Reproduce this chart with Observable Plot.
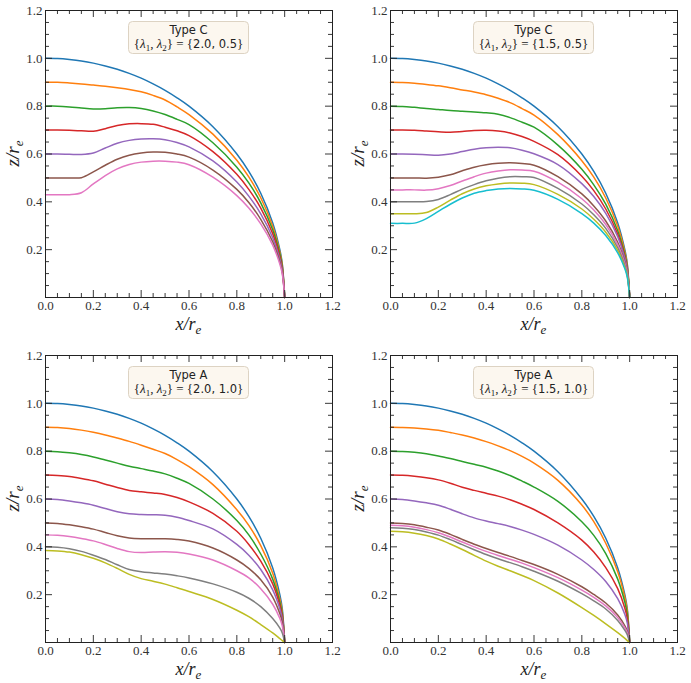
<!DOCTYPE html>
<html><head><meta charset="utf-8">
<script src="https://cdn.jsdelivr.net/npm/d3@7"></script>
<script src="https://cdn.jsdelivr.net/npm/@observablehq/plot@0.6"></script>
<style>
body{margin:0;background:#fff;}
#wrap{position:relative;width:691px;height:683px;overflow:hidden;}
.panel{position:absolute;}
</style></head><body><div id="wrap"></div>
<script>
// shared x positions (x / r_e)
const xs = [0, 0.05, 0.1, 0.15, 0.2, 0.25, 0.3, 0.35, 0.4, 0.45, 0.5, 0.55, 0.6, 0.7, 0.8, 0.85, 0.9, 0.95, 0.98, 0.99, 1.0];
const colors = ["#1f77b4","#ff7f0e","#2ca02c","#d62728","#9467bd","#8c564b","#e377c2","#7f7f7f","#bcbd22","#17becf"];
const xTicks = [0.0, 0.2, 0.4, 0.6, 0.8, 1.0, 1.2];
const yTicks = [0.2, 0.4, 0.6, 0.8, 1.0, 1.2];
const panelTypes = ["Type C", "Type C", "Type A", "Type A"];
const lambda1 = ["2.0", "1.5", "2.0", "1.5"];
const lambda2 = ["0.5", "0.5", "1.0", "1.0"];

const sphere = [1, 0.999, 0.995, 0.989, 0.98, 0.968, 0.954, 0.937, 0.917, 0.893, 0.866, 0.835, 0.8, 0.714, 0.6, 0.527, 0.436, 0.312, 0.199, 0.141, 0];

// Type C {2.0, 0.5}
const typeC_20_05 = [
  sphere,
  [0.9, 0.9, 0.897, 0.893, 0.888, 0.883, 0.877, 0.87, 0.86, 0.845, 0.826, 0.797, 0.765, 0.683, 0.574, 0.504, 0.417, 0.298, 0.19, 0.135, 0],
  [0.8, 0.8, 0.797, 0.792, 0.788, 0.789, 0.793, 0.794, 0.79, 0.78, 0.765, 0.745, 0.723, 0.647, 0.545, 0.479, 0.396, 0.283, 0.181, 0.128, 0],
  [0.7, 0.7, 0.699, 0.697, 0.695, 0.706, 0.719, 0.726, 0.727, 0.724, 0.712, 0.697, 0.677, 0.61, 0.515, 0.452, 0.374, 0.267, 0.17, 0.12, 0],
  [0.6, 0.6, 0.599, 0.598, 0.604, 0.625, 0.645, 0.657, 0.663, 0.664, 0.66, 0.648, 0.63, 0.571, 0.483, 0.424, 0.35, 0.25, 0.159, 0.113, 0],
  [0.5, 0.5, 0.5, 0.501, 0.525, 0.553, 0.578, 0.595, 0.604, 0.608, 0.607, 0.6, 0.587, 0.533, 0.452, 0.397, 0.327, 0.233, 0.148, 0.105, 0],
  [0.43, 0.43, 0.43, 0.438, 0.475, 0.51, 0.538, 0.556, 0.566, 0.57, 0.57, 0.566, 0.555, 0.503, 0.426, 0.374, 0.308, 0.219, 0.139, 0.099, 0]
];

// Type C {1.5, 0.5}
const typeC_15_05 = [
  sphere,
  [0.9, 0.899, 0.896, 0.891, 0.885, 0.877, 0.868, 0.859, 0.848, 0.833, 0.815, 0.79, 0.763, 0.681, 0.572, 0.503, 0.416, 0.298, 0.19, 0.135, 0],
  [0.8, 0.799, 0.795, 0.79, 0.786, 0.782, 0.779, 0.776, 0.772, 0.766, 0.752, 0.733, 0.712, 0.637, 0.536, 0.471, 0.39, 0.279, 0.178, 0.126, 0],
  [0.7, 0.7, 0.699, 0.696, 0.693, 0.691, 0.694, 0.698, 0.699, 0.696, 0.688, 0.673, 0.653, 0.597, 0.507, 0.447, 0.37, 0.265, 0.17, 0.12, 0],
  [0.6, 0.6, 0.599, 0.597, 0.595, 0.6, 0.61, 0.62, 0.626, 0.628, 0.626, 0.616, 0.601, 0.556, 0.476, 0.422, 0.352, 0.254, 0.163, 0.115, 0],
  [0.5, 0.5, 0.5, 0.499, 0.503, 0.513, 0.53, 0.545, 0.555, 0.561, 0.563, 0.56, 0.553, 0.505, 0.433, 0.383, 0.32, 0.231, 0.148, 0.105, 0],
  [0.45, 0.45, 0.45, 0.449, 0.455, 0.468, 0.487, 0.505, 0.52, 0.529, 0.534, 0.533, 0.528, 0.482, 0.413, 0.366, 0.305, 0.22, 0.141, 0.1, 0],
  [0.4, 0.4, 0.4, 0.401, 0.41, 0.43, 0.453, 0.472, 0.488, 0.499, 0.505, 0.505, 0.502, 0.456, 0.391, 0.346, 0.289, 0.208, 0.133, 0.095, 0],
  [0.35, 0.35, 0.35, 0.355, 0.378, 0.407, 0.434, 0.454, 0.467, 0.475, 0.479, 0.478, 0.472, 0.431, 0.37, 0.327, 0.273, 0.197, 0.126, 0.09, 0],
  [0.31, 0.31, 0.311, 0.33, 0.36, 0.39, 0.416, 0.436, 0.447, 0.454, 0.456, 0.454, 0.448, 0.41, 0.351, 0.311, 0.259, 0.187, 0.12, 0.085, 0]
];

// Type A {2.0, 1.0}
const typeA_20_10 = [
  sphere,
  [0.9, 0.899, 0.895, 0.888, 0.879, 0.868, 0.855, 0.841, 0.825, 0.808, 0.79, 0.765, 0.735, 0.66, 0.555, 0.49, 0.405, 0.29, 0.182, 0.128, 0],
  [0.8, 0.798, 0.793, 0.786, 0.776, 0.763, 0.75, 0.737, 0.727, 0.717, 0.705, 0.687, 0.665, 0.6, 0.51, 0.45, 0.37, 0.265, 0.168, 0.118, 0],
  [0.7, 0.698, 0.694, 0.686, 0.676, 0.662, 0.648, 0.636, 0.63, 0.625, 0.619, 0.606, 0.588, 0.54, 0.465, 0.41, 0.34, 0.245, 0.155, 0.109, 0],
  [0.6, 0.598, 0.592, 0.584, 0.574, 0.56, 0.547, 0.538, 0.535, 0.534, 0.532, 0.524, 0.51, 0.475, 0.41, 0.365, 0.305, 0.22, 0.14, 0.099, 0],
  [0.5, 0.498, 0.492, 0.484, 0.474, 0.46, 0.446, 0.437, 0.434, 0.434, 0.434, 0.431, 0.424, 0.395, 0.345, 0.31, 0.262, 0.19, 0.12, 0.085, 0],
  [0.45, 0.448, 0.443, 0.435, 0.425, 0.41, 0.393, 0.38, 0.376, 0.378, 0.379, 0.377, 0.37, 0.345, 0.3, 0.27, 0.225, 0.16, 0.1, 0.07, 0],
  [0.4, 0.398, 0.392, 0.381, 0.365, 0.347, 0.325, 0.305, 0.296, 0.291, 0.286, 0.279, 0.27, 0.245, 0.21, 0.185, 0.15, 0.1, 0.06, 0.04, 0],
  [0.385, 0.383, 0.378, 0.367, 0.352, 0.333, 0.31, 0.285, 0.267, 0.256, 0.244, 0.229, 0.213, 0.18, 0.135, 0.108, 0.075, 0.04, 0.016, 0.008, 0]
];

// Type A {1.5, 1.0}
const typeA_15_10 = [
  sphere,
  [0.9, 0.899, 0.897, 0.893, 0.887, 0.878, 0.868, 0.855, 0.84, 0.822, 0.802, 0.778, 0.75, 0.678, 0.575, 0.505, 0.415, 0.296, 0.188, 0.133, 0],
  [0.8, 0.799, 0.795, 0.789, 0.78, 0.769, 0.757, 0.745, 0.733, 0.717, 0.698, 0.675, 0.65, 0.59, 0.505, 0.448, 0.372, 0.265, 0.168, 0.118, 0],
  [0.7, 0.699, 0.695, 0.689, 0.68, 0.666, 0.649, 0.636, 0.624, 0.612, 0.597, 0.578, 0.556, 0.5, 0.428, 0.378, 0.313, 0.225, 0.143, 0.1, 0],
  [0.6, 0.598, 0.592, 0.584, 0.574, 0.557, 0.538, 0.521, 0.508, 0.497, 0.485, 0.47, 0.452, 0.407, 0.345, 0.305, 0.255, 0.183, 0.117, 0.082, 0],
  [0.5, 0.498, 0.492, 0.482, 0.47, 0.452, 0.431, 0.411, 0.393, 0.376, 0.36, 0.343, 0.326, 0.285, 0.233, 0.201, 0.165, 0.115, 0.07, 0.048, 0],
  [0.49, 0.488, 0.482, 0.472, 0.459, 0.441, 0.42, 0.4, 0.381, 0.364, 0.348, 0.332, 0.313, 0.271, 0.219, 0.189, 0.153, 0.104, 0.061, 0.041, 0],
  [0.48, 0.478, 0.472, 0.462, 0.449, 0.43, 0.409, 0.388, 0.368, 0.35, 0.334, 0.317, 0.298, 0.256, 0.204, 0.174, 0.14, 0.092, 0.051, 0.033, 0],
  [0.465, 0.463, 0.457, 0.447, 0.433, 0.412, 0.389, 0.364, 0.34, 0.319, 0.3, 0.28, 0.259, 0.207, 0.146, 0.113, 0.078, 0.041, 0.017, 0.008, 0]
];

const panels = [typeC_20_05, typeC_15_05, typeA_20_10, typeA_15_10];
const positions = [[0, 0], [345, 0], [0, 345], [345, 345]];

const W = 345, H = 340, ML = 45, MR = 13, MT = 10, MB = 43;
const minorTicks = d3.range(0, 25, 1).map(i => i * 0.05).filter(v => Math.abs(v / 0.2 - Math.round(v / 0.2)) > 1e-6);
const serif = "'Liberation Serif', 'DejaVu Serif', serif";
const sans = "'DejaVu Sans', sans-serif";
const tickColor = "#222";

function tickMarks(vals, len) {
  return [
    Plot.ruleX(vals, {x: d => d, y1: 0, y2: 0, insetBottom: len, stroke: tickColor, strokeWidth: 0.9}),
    Plot.ruleX(vals, {x: d => d, y1: 1.2, y2: 1.2, insetTop: len, stroke: tickColor, strokeWidth: 0.9}),
    Plot.ruleY(vals, {y: d => d, x1: 0, x2: 0, insetLeft: len, stroke: tickColor, strokeWidth: 0.9}),
    Plot.ruleY(vals, {y: d => d, x1: 1.2, x2: 1.2, insetRight: len, stroke: tickColor, strokeWidth: 0.9})
  ];
}

const wrap = document.getElementById("wrap");
panels.forEach((series, p) => {
  const lines = series.map((ys, k) =>
    Plot.line(xs.map((x, i) => ({x, y: ys[i]})), {x: "x", y: "y", stroke: colors[k], strokeWidth: 1.5, curve: "catmull-rom"})
  );
  const svg = Plot.plot({
    width: W, height: H,
    marginLeft: ML, marginRight: MR, marginTop: MT, marginBottom: MB,
    x: {domain: [0, 1.2]},
    y: {domain: [0, 1.2]},
    style: {fontFamily: serif, fontSize: "13px", color: "#333", background: "transparent", overflow: "visible"},
    marks: [
      ...lines,
      Plot.axisX(xTicks, {tickSize: 0, tickPadding: 3, tickFormat: d3.format(".1f"), label: null, fontSize: 13, fill: "#333", fontFamily: serif}),
      Plot.axisY(yTicks, {tickSize: 0, tickPadding: 3, tickFormat: d3.format(".1f"), label: null, fontSize: 13, fill: "#333", fontFamily: serif}),
      ...tickMarks(xTicks, 7),
      ...tickMarks(minorTicks, 4),
      Plot.frame({stroke: "#222", strokeWidth: 1})
    ]
  });
  const div = document.createElement("div");
  div.className = "panel";
  div.style.left = positions[p][0] + "px";
  div.style.top = positions[p][1] + "px";
  div.appendChild(svg);
  wrap.appendChild(div);

  const s = d3.select(svg);
  s.selectAll("text").style("font-family", serif);
  const cx = ML + (W - ML - MR) / 2;
  const cy = MT + (H - MT - MB) / 2;
  // x label
  const xl = s.append("text").attr("x", cx).attr("y", 330).attr("text-anchor", "middle")
    .style("font-family", serif).style("font-style", "italic").style("font-size", "18px").attr("fill", "#222");
  xl.append("tspan").text("x/r");
  xl.append("tspan").style("font-size", "13px").attr("dy", 4).text("e");
  // y label
  const yl = s.append("text").attr("transform", `translate(19,${cy}) rotate(-90)`).attr("text-anchor", "middle")
    .style("font-family", serif).style("font-style", "italic").style("font-size", "19px").attr("fill", "#222");
  yl.append("tspan").text("z/r");
  yl.append("tspan").style("font-size", "13px").attr("dy", 4).text("e");

  // annotation box
  const bw = 120, bh = 32, by = 21.5;
  s.append("rect").attr("x", cx - bw / 2).attr("y", by).attr("width", bw).attr("height", bh)
    .attr("rx", 4).attr("fill", "#fcf7ef").attr("stroke", "#ddd3c3").attr("stroke-width", 1);
  s.append("text").attr("x", cx).attr("y", by + 12).attr("text-anchor", "middle")
    .style("font-family", sans).style("font-size", "11.5px").attr("fill", "#222").text(panelTypes[p]);
  const t2 = s.append("text").attr("x", cx).attr("y", by + 26).attr("text-anchor", "middle")
    .style("font-family", serif).style("font-size", "13px").attr("fill", "#222");
  t2.append("tspan").text("{");
  t2.append("tspan").style("font-style", "italic").text("λ");
  t2.append("tspan").style("font-size", "9px").attr("dy", 3).text("1");
  t2.append("tspan").attr("dy", -3).text(", ");
  t2.append("tspan").style("font-style", "italic").text("λ");
  t2.append("tspan").style("font-size", "9px").attr("dy", 3).text("2");
  t2.append("tspan").attr("dy", -3).text("} = {");
  t2.append("tspan").style("font-family", sans).style("font-size", "11.5px").text(`${lambda1[p]}, ${lambda2[p]}`);
  t2.append("tspan").text("}");
});
</script>
</body></html>
